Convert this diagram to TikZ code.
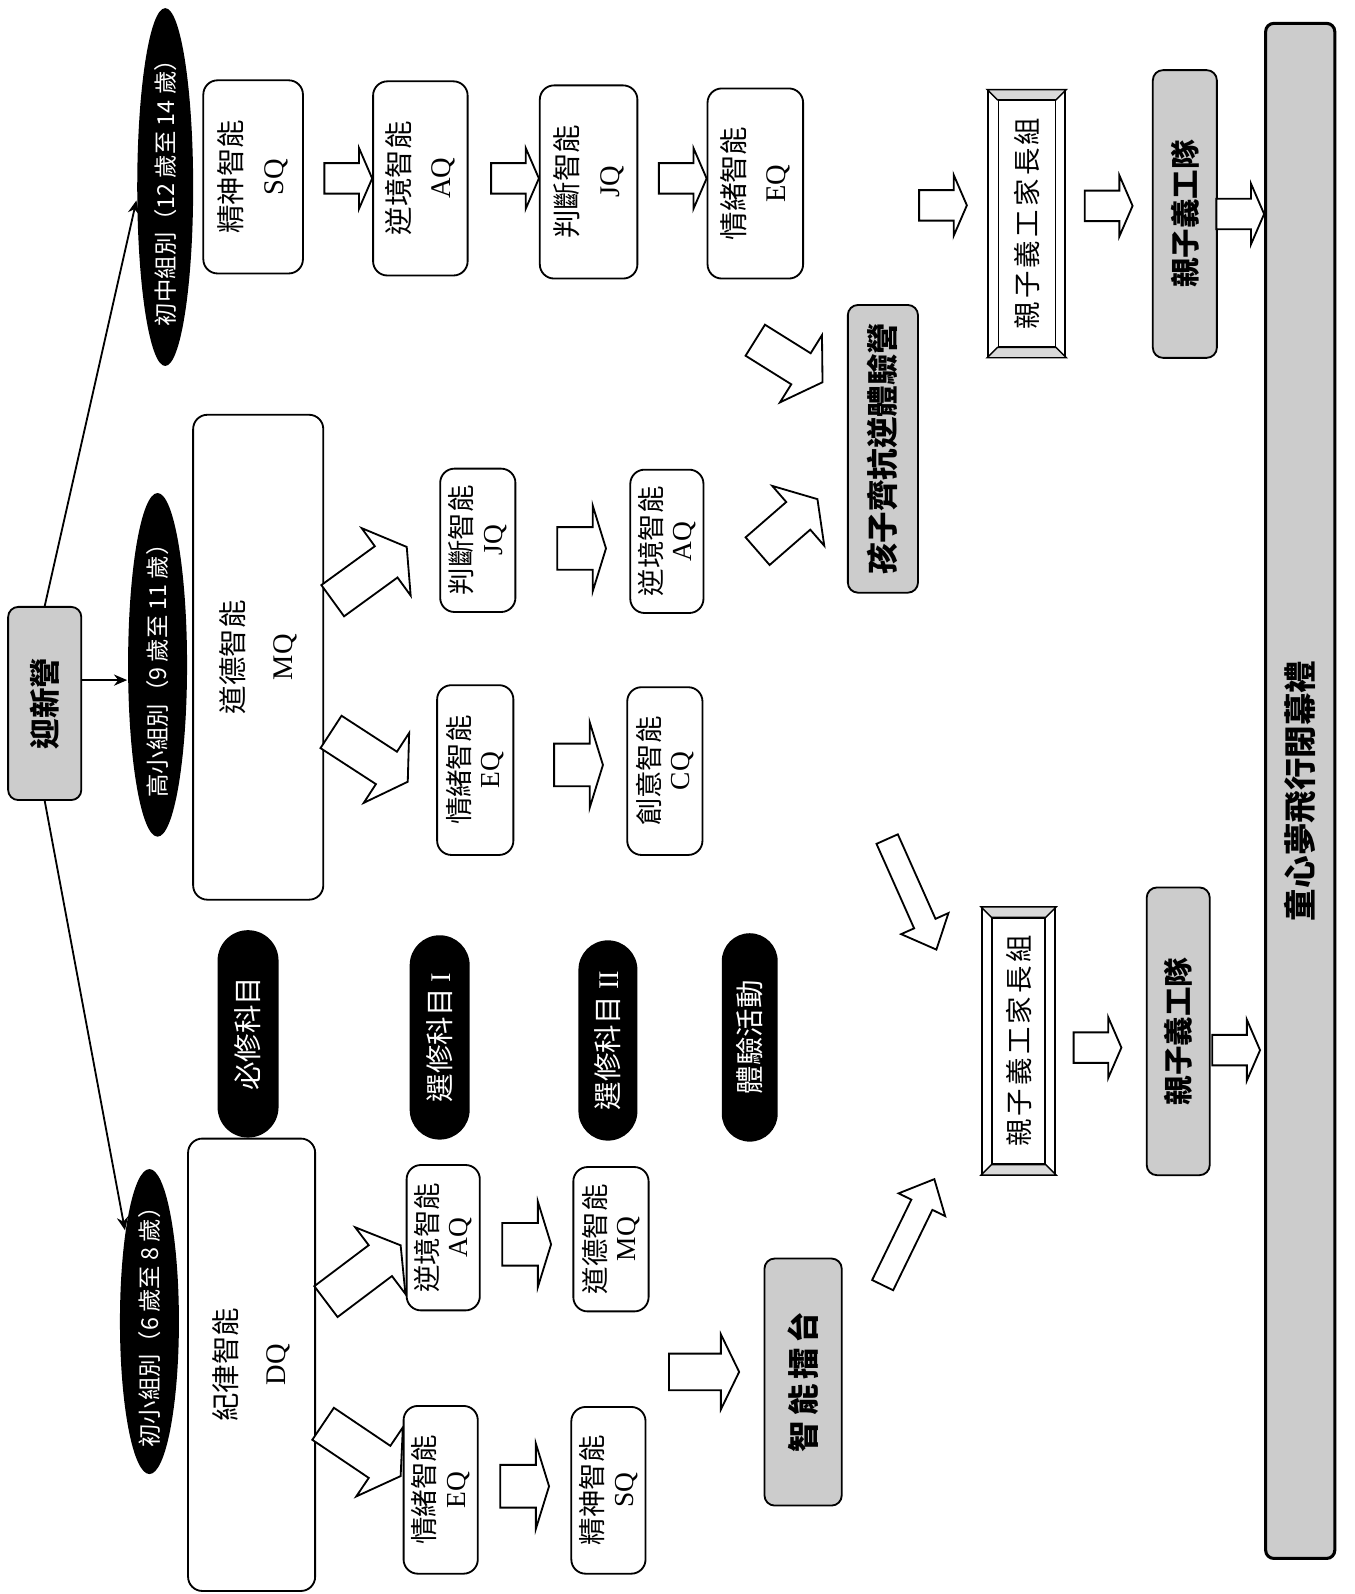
\documentclass[tikz,border=0pt]{standalone}
\usepackage{fontspec}
\setmainfont{Liberation Serif}
\newfontfamily\cjk{Noto Sans CJK TC}
\usetikzlibrary{shapes.geometric,shapes.misc,arrows.meta,calc}

\begin{document}
\begin{tikzpicture}
[x=1pt,y=-1pt,->,>={Stealth[length=13pt,width=11pt]},line width=1.8pt,
qbox/.style={rectangle,rounded corners=14pt,draw,fill=white,rotate=90,align=center,inner sep=0pt,font=\fontsize{28}{41}\selectfont\cjk},
bigq/.style={qbox,font=\fontsize{28}{48}\selectfont\cjk},
smallq/.style={qbox,font=\fontsize{27}{30}\selectfont\cjk},
grp/.style={ellipse,fill=black,text=white,rotate=90,inner sep=0pt,font=\fontsize{23}{24}\selectfont\cjk},
subj/.style={rounded rectangle,fill=black,text=white,rotate=90,inner sep=0pt,font=\fontsize{28}{28}\selectfont\cjk},
shade/.style={rectangle,rounded corners=10pt,draw,fill=gray!40,rotate=90,inner sep=0pt,font=\fontsize{30}{34}\selectfont\bfseries\cjk},
bevel/.style={rectangle,draw,fill=white,rotate=90,inner sep=0pt},
bevelin/.style={rectangle,draw,fill=white,rotate=90,inner sep=0pt,line width=1.4pt,font=\fontsize{27}{30}\selectfont\cjk\addfontfeature{LetterSpace=12}},
bevband/.style={-,fill=gray!30,line width=1.4pt},
blkline/.style={-,draw,fill=white,line width=1.8pt,line join=miter},
pics/blk/.style args={#1/#2/#3/#4}{code={\draw[blkline] (0,0) -- (-#4,-#3) -- (-#4,-#2) -- (-#1,-#2) -- (-#1,#2) -- (-#4,#2) -- (-#4,#3) -- cycle;}}]
\useasboundingbox (0,0) rectangle (1332,1568);
\fill[white] (0,0) rectangle (1332,1568);

\node[shade,minimum width=190,minimum height=72] (ys) at (44,692) {迎新營};

\node[grp,minimum width=352,minimum height=55] (c1) at (162.5,184) {\makebox[0pt]{初中組別（12 歲至 14 歲）}};
\node[grp,minimum width=338,minimum height=58] (c2) at (155,654) {\makebox[0pt]{高小組別（9 歲至 11 歲）}};
\node[grp,minimum width=300,minimum height=58] (c3) at (147,1300) {\makebox[0pt]{初小組別（6 歲至 8 歲）}};

\draw (ys.east) -- (c1.115);
\draw ([yshift=23pt]ys.south) -- ([yshift=23pt]ys.south -| c2.north);
\draw (ys.west) -- (c3.15);

\node[qbox,minimum width=190,minimum height=98] (sq1) at (249,174) {精神智能\\{\rmfamily SQ}};
\node[qbox,minimum width=191,minimum height=93] (aq1) at (413.5,175.5) {逆境智能\\{\rmfamily AQ}};
\node[qbox,minimum width=190,minimum height=96] (jq1) at (579,179) {判斷智能\\{\rmfamily JQ}};
\node[qbox,minimum width=187,minimum height=94] (eq1) at (743,180.5) {情緒智能\\{\rmfamily EQ}};

\node[bigq,minimum width=477,minimum height=128] (mq) at (254,646.5) {道德智能\\{\rmfamily MQ}};
\node[smallq,minimum width=141,minimum height=74] (jq2) at (470,531.5) {判斷智能\\{\rmfamily JQ}};
\node[smallq,minimum width=141,minimum height=72] (aq2) at (656,532.5) {逆境智能\\{\rmfamily AQ}};
\node[smallq,minimum width=167,minimum height=75] (eq2) at (467.5,757.5) {情緒智能\\{\rmfamily EQ}};
\node[smallq,minimum width=165,minimum height=74] (cq) at (654,758.5) {創意智能\\{\rmfamily CQ}};

\node[bigq,minimum width=445,minimum height=125] (dq) at (247.5,1342.5) {紀律智能\\{\rmfamily DQ}};
\node[smallq,minimum width=143,minimum height=72] (aq3) at (436,1217.5) {逆境智能\\{\rmfamily AQ}};
\node[smallq,minimum width=142,minimum height=74] (mq3) at (601,1219) {道德智能\\{\rmfamily MQ}};
\node[smallq,minimum width=165,minimum height=73] (eq3) at (433.5,1465.5) {情緒智能\\{\rmfamily EQ}};
\node[smallq,minimum width=164,minimum height=73] (sq3) at (598.5,1466) {精神智能\\{\rmfamily SQ}};

\node[subj,minimum width=204,minimum height=60] (s1) at (244,1017) {必修科目};
\node[subj,minimum width=201,minimum height=59] (s2) at (432.5,1020.5) {選修科目 {\rmfamily I}};
\node[subj,minimum width=197,minimum height=58] (s3) at (598,1023.5) {選修科目 {\rmfamily II}};
\node[subj,minimum width=205,minimum height=55] (s4) at (737.5,1020.5) {體驗活動};

\node[shade,minimum width=243,minimum height=76,font=\fontsize{31}{34}\selectfont\bfseries\cjk\addfontfeature{LetterSpace=15}] (ring) at (790,1359.5) {智能擂台};
\node[shade,minimum width=283,minimum height=69,font=\fontsize{31}{34}\selectfont\bfseries\cjk] (camp) at (868.5,441.5) {孩子齊抗逆體驗營};
\node[shade,minimum width=283,minimum height=63,font=\fontsize{29}{32}\selectfont\bfseries\cjk] (team1) at (1165.5,210.5) {親子義工隊};
\node[shade,minimum width=283,minimum height=62,font=\fontsize{29}{32}\selectfont\bfseries\cjk] (team2) at (1159,1014.5) {親子義工隊};
\node[shade,rounded corners=8pt,line width=3pt,minimum width=1510,minimum height=68,font=\fontsize{32}{36}\selectfont\bfseries\cjk] (close) at (1279,778) {童心夢飛行閉幕禮};

\node[bevel,minimum width=262,minimum height=76] (fam1) at (1010,220) {};
\node[bevelin,minimum width=242,minimum height=56] (fam1i) at (fam1) {親子義工家長組};
\filldraw[bevband] (fam1.north east) -- (fam1.south east) -- (fam1i.south east) -- (fam1i.north east) -- cycle;
\filldraw[bevband] (fam1.north west) -- (fam1.south west) -- (fam1i.south west) -- (fam1i.north west) -- cycle;
\node[bevel,minimum width=262,minimum height=72] (fam2) at (1002,1024) {};
\node[bevelin,minimum width=242,minimum height=52] (fam2i) at (fam2) {親子義工家長組};
\filldraw[bevband] (fam2.north east) -- (fam2.south east) -- (fam2i.south east) -- (fam2i.north east) -- cycle;
\filldraw[bevband] (fam2.north west) -- (fam2.south west) -- (fam2i.south west) -- (fam2i.north west) -- cycle;

\pic at (aq1.north) {blk=47/15/30/13};
\pic at (jq1.north |- aq1) {blk=47/15/30/13};
\pic at (eq1.north |- aq1) {blk=47/15/30/13};
\pic at ($(fam1.north)+(-20,-18)$) {blk=47/15/30/13};
\pic at ($(team1.north)+(-19,-8)$) {blk=47/15/30/13};
\pic at (close.north |- team1) {blk=47/15/30/13};
\pic at ($(aq2.north)+(-23,7)$) {blk=48/21/42/13};
\pic at ($(cq.north)+(-23,-6)$) {blk=48/21/42/13};
\pic at ($(mq3.north)+(-21,5)$) {blk=48/21/42/13};
\pic at ($(sq3.north)+(-21,-4)$) {blk=48/21/42/13};
\pic at ($(ring.north)+(-24,-10)$) {blk=69/18/37/18};
\pic at ($(team2.north)+(-24,16)$) {blk=47/15/30/13};
\pic at ($(close.north)+(-4,255)$) {blk=47/15/30/13};

\pic[rotate=36] at ($(jq2.north)+(-32,6.5)$) {blk=90/19/41/25};
\pic[rotate=-33] at ($(eq2.north)+(-28,11.5)$) {blk=90/19/41/25};
\pic[rotate=37] at ($(aq3.north)+(-5,7.5)$) {blk=92/19/41/25};
\pic[rotate=-34] at ($(eq3.north)+(-2,-13.5)$) {blk=92/19/41/25};
\pic[rotate=-32] at ($(camp.north)+(-24,-65.5)$) {blk=78/18/39/25};
\pic[rotate=41] at ($(camp.north)+(-29,49.5)$) {blk=78/18/39/25};
\pic[rotate=-66] at ($(fam2.north east)+(-44,42)$) {blk=119/11.5/25.5/28};
\pic[rotate=64] at ($(fam2.north west)+(-46,4)$) {blk=116/11.5/25.5/28};
\end{tikzpicture}
\end{document}
